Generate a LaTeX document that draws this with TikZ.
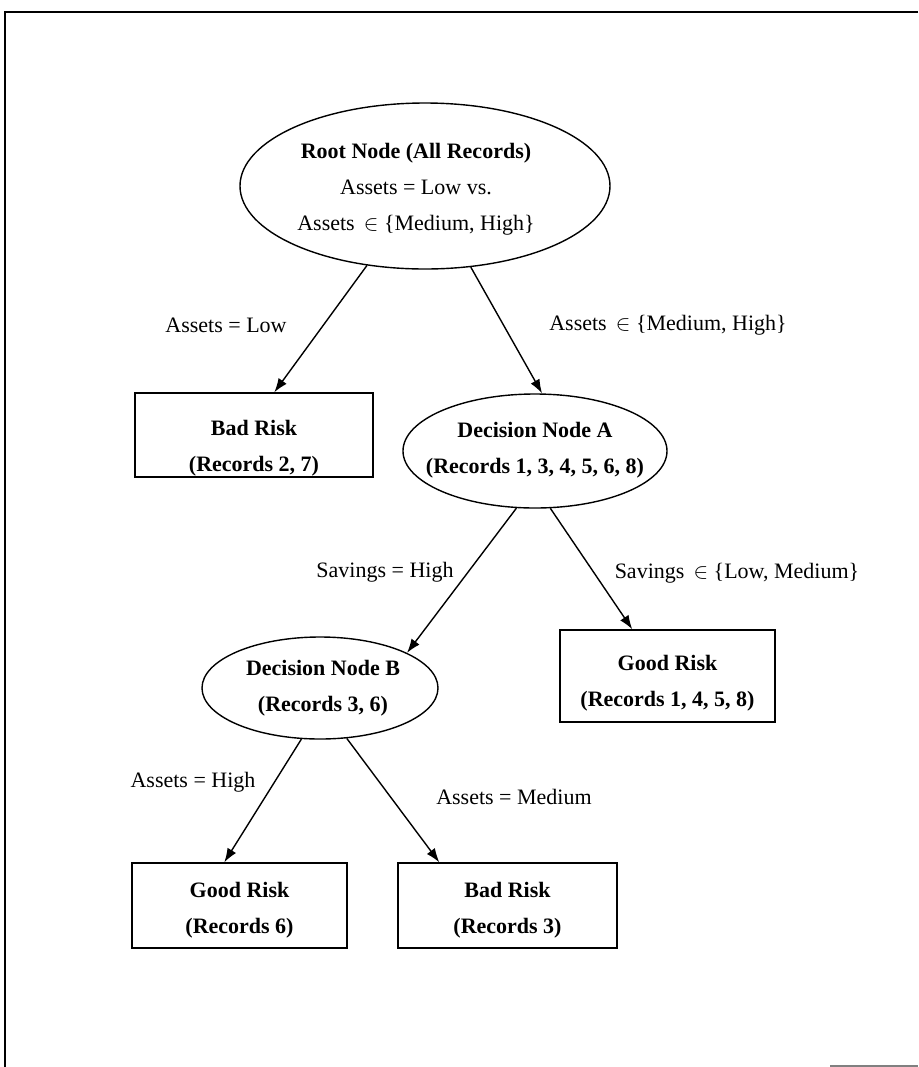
\documentclass[tikz,border=0pt]{standalone}
\usepackage{fontspec}
\setmainfont{Liberation Serif}
\usetikzlibrary{shapes.geometric,arrows.meta,calc}

\begin{document}
% one unit = one pixel of the 918 x 1067 page, y pointing down
\begin{tikzpicture}[x=0.5pt,y=-0.5pt,
  every node/.style={font=\fontsize{11}{18}\selectfont},
  oval/.style={draw,ellipse,line width=0.7pt,inner sep=0pt},
  leaf/.style={draw,rectangle,line width=0.7pt,inner sep=0pt},
  txt/.style={align=center,inner sep=0pt},
  lbl/.style={inner sep=0pt},
  arr/.style={line width=0.7pt,-{Latex[length=7pt,width=5pt]}},
]
\useasboundingbox (0,0) rectangle (918,1067);

% page frame
\draw[line width=1pt] (918,12) -- (5,12) -- (5,1067);
\draw[line width=1pt,gray] (830,1066) -- (918,1066);

% root
\node[oval,minimum width=185pt,minimum height=83pt] (root) at (425,186) {};
\node[txt] (roott) at (416,189) {\textbf{Root Node (All Records)}\\Assets = Low vs.\\Assets\, $\in$ \{Medium, High\}};

% first split
\node[leaf,minimum width=119pt,minimum height=42pt] (bad1) at (254,435) {};
\node[txt] (bad1t) at (254,448) {\textbf{Bad Risk}\\\textbf{(Records 2, 7)}};

\node[oval,minimum width=132pt,minimum height=57pt] (A) at (535,451) {};
\node[txt] (At) at (535,450) {\textbf{Decision Node A}\\\textbf{(Records 1, 3, 4, 5, 6, 8)}};

% second split
\node[oval,minimum width=118pt,minimum height=51pt] (B) at (320,688) {};
\node[txt] (Bt) at (323,688) {\textbf{Decision Node B}\\\textbf{(Records 3, 6)}};

\node[leaf,minimum width=107.5pt,minimum height=46pt] (good1) at (667.5,676) {};
\node[txt] (good1t) at (667.5,683) {\textbf{Good Risk}\\\textbf{(Records 1, 4, 5, 8)}};

% leaves under B
\node[leaf,minimum width=107.5pt,minimum height=42.5pt] (good6) at (239.5,905.5) {};
\node[txt] (good6t) at (239.5,910) {\textbf{Good Risk}\\\textbf{(Records 6)}};

\node[leaf,minimum width=109.5pt,minimum height=42.5pt] (bad3) at (507.5,905.5) {};
\node[txt] (bad3t) at (507.5,910) {\textbf{Bad Risk}\\\textbf{(Records 3)}};

% branches
\draw[arr] (root) -- ($(bad1.north west)+(140,0)$);
\draw[arr] (root) -- (A.83);
\draw[arr] (A.-108) -- (B.22);
\draw[arr] (A.-75) -- ($(good1.north west)+(73,0)$);
\draw[arr] (B.-110) -- ($(good6.north west)+(93,0)$);
\draw[arr] (B.-62) -- ($(bad3.north west)+(42,0)$);

% branch labels
\node[lbl] (l1) at (226,325) {Assets = Low};
\node[lbl] (l2) at (668,325) {Assets\, $\in$ \{Medium, High\}};
\node[lbl] (l3) at (385,572) {Savings = High};
\node[lbl] (l4) at (737,573) {Savings\, $\in$ \{Low, Medium\}};
\node[lbl] (l5) at (193,782) {Assets = High};
\node[lbl] (l6) at (514,797) {Assets = Medium};
\end{tikzpicture}
\end{document}
